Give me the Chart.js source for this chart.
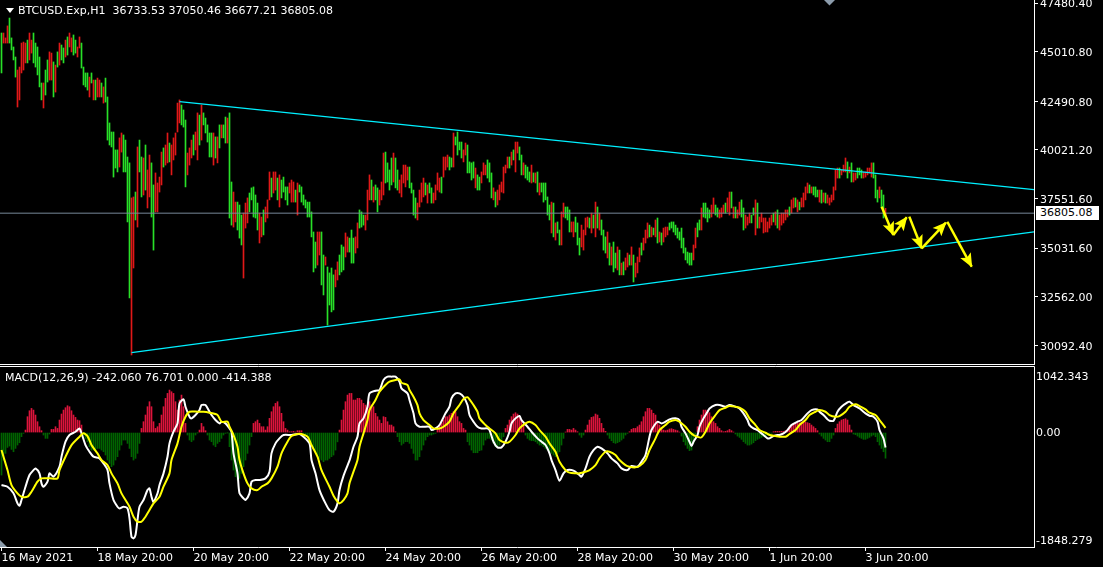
<!DOCTYPE html>
<html>
<head>
<meta charset="utf-8">
<script src="https://cdn.jsdelivr.net/npm/chart.js@4.4.1/dist/chart.umd.min.js"></script>
<style>
  body { margin:0; background:#000; width:1103px; height:567px; overflow:hidden; position:relative; font-family:"DejaVu Sans", sans-serif; }
  canvas { position:absolute; left:0; }
  #price { top:0; }
  #macd { top:365px; }
  .lbl { position:absolute; color:#fff; font-size:11px; line-height:13px; white-space:pre; }
  #tri { position:absolute; left:6px; top:8px; width:0; height:0; border-left:4px solid transparent; border-right:4px solid transparent; border-top:5px solid #fff; }
  #bidbox { position:absolute; left:1036px; top:206px; width:59px; height:14px; background:#fff; color:#000; font-size:11px; line-height:14px; padding-left:4px; }
</style>
</head>
<body>
<canvas id="price" width="1103" height="365"></canvas>
<canvas id="macd" width="1103" height="202"></canvas>
<div id="tri"></div>
<div class="lbl" style="left:18px;top:4px">BTCUSD.Exp,H1  36733.53 37050.46 36677.21 36805.08</div>
<div class="lbl" style="left:5px;top:371px">MACD(12,26,9) -242.060 76.701 0.000 -414.388</div>
<div id="bidbox">36805.08</div>
<script>
// H1 bars, 16 May 20:00 .. 3 Jun, one per hour
const highs = [
45960,45960,45710,46320,46720,45710,45250,44740,44080,44230,
45450,45500,45450,45600,45960,45600,45960,45450,45250,44740,
43420,43420,44080,44590,45000,44940,44490,44330,45000,45450,
45350,45200,45600,45760,45960,45710,45860,45600,45250,45760,
45450,44230,43930,43930,43720,43930,43570,43570,43670,43570,
43420,43220,43670,42710,
41390,40930,40930,40020,40020,40630,40880,40780,40520,39660,
39360,37580,37630,37880,40170,40520,39660,39610,40270,39000,
39760,39360,38240,38850,38340,38640,39910,40120,40270,40880,
40370,40270,40630,40880,42400,42560,42300,42050,41540,39860,
40120,40520,40780,40930,41900,41790,42300,41900,41640,41290,
40880,40880,40880,40680,40680,41290,41290,41290,41690,41640,
41900,38390,37880,37370,37370,37220,36710,36810,37320,37580,
37830,38090,38140,37730,37320,36810,36610,36970,37120,37480,
38900,38590,38900,38900,38590,38750,38490,38640,38140,38140,
38340,38490,38390,37980,38340,38240,38140,37730,37480,37370,
37370,36870,35850,35340,35850,35850,35850,34680,34580,34070,
33770,34020,33670,33920,34330,34680,35190,35090,35800,35600,
35540,35950,35540,35600,36310,36970,36870,36710,36710,37980,
38750,38490,38140,38240,38090,37980,38390,39860,39910,39360,
39000,39610,39860,39610,39000,38490,38750,39250,39250,39150,
39150,38340,37980,37580,37320,37980,38340,38590,38340,38240,
38340,38090,37830,38240,38850,38590,38640,39660,39660,39760,
39660,39610,40880,40680,40930,40420,40420,40020,40370,40270,
39410,39360,39410,39100,38750,38640,38900,39360,39250,39510,
39360,38850,38090,37880,37980,38240,38390,39150,39250,39660,
39660,39910,40020,40420,40420,40170,39760,39360,39250,39150,
38900,39250,38850,38850,38900,38340,38340,38340,38340,37630,
37220,37370,37320,36310,36360,35950,36870,37320,37120,37120,
36970,36360,36360,36610,36310,35540,36200,35950,36560,36610,
36560,36810,36710,37370,37120,36810,36460,35950,35600,35850,
35290,35090,35340,34780,35090,34930,34270,34330,34530,34780,
34680,35090,34680,34270,34580,35040,35290,35540,35950,36310,
36200,36100,36050,36460,36560,35850,35800,36050,36100,36100,
36310,36360,36360,36200,36050,35850,36050,35540,35040,34830,
34780,34780,35190,36050,36310,36460,37070,37320,37320,37070,
36970,37220,37580,37220,37070,36970,37070,37220,37320,37580,
37880,37880,37120,37120,36970,37370,37480,37070,36710,36610,
36810,36710,37070,37480,37320,36610,36810,36560,36560,36360,
36560,36710,36810,36870,36970,36710,36810,36810,36970,36970,
37120,37480,37580,37580,37480,37370,37580,37830,38140,38340,
38240,38140,38140,38140,37980,37980,37980,37830,37830,37730,
37580,37730,38140,39000,39100,39100,39000,39250,39610,39410,
39150,39360,38850,38850,39100,39100,39000,38900,38900,39100,
39100,39360,39360,38750,37980,38140,37980,37730,37050
];
const lows = [
43930,45450,45450,45450,45450,45100,44590,43720,42200,42560,
43930,44080,44440,44440,44590,44940,44440,44230,43830,43220,
42560,42150,42810,43470,43570,43570,42710,42960,44230,44330,
44590,44440,44740,44840,45250,45000,44840,44940,44740,45200,
44180,43320,43220,43060,42710,43420,42560,42560,42710,42710,
42710,42400,42450,40520,
40270,40170,38640,39100,38900,39150,39910,38900,38900,36360,
32500,29600,34020,36460,36100,38900,37630,37730,37980,37070,
37630,36610,34930,36870,36870,37880,38240,39150,39250,39360,
39410,38750,39510,39760,40930,41390,41290,41180,38140,38750,
39250,39610,39760,40020,39510,40270,40520,41290,40880,40420,
39660,39660,39250,39610,39360,40120,40630,40630,40370,40370,
36560,36200,36100,36360,35950,35540,35190,33510,36050,36310,
36870,37480,36610,36560,35950,35290,35600,35700,36360,36560,
37480,37630,37830,37980,37480,37120,37580,37880,37480,37220,
37830,37370,37370,37370,36710,37880,37370,37220,37070,36610,
36610,35600,33820,34020,34170,34680,33160,32650,34170,31120,
32140,31790,31890,33060,33410,33670,33820,33920,34580,34830,
34830,34270,34270,34780,35040,36050,36100,36200,35950,36460,
37480,37480,37370,37480,36870,37220,37480,37730,38340,38390,
37980,38240,38390,38090,37980,37830,37630,38340,38140,38490,
38090,37830,36710,36560,36460,37120,37370,37630,37730,37320,
37830,37320,37320,37480,37980,37880,37830,38640,39000,39150,
39000,39150,39150,40270,39760,40020,39610,39410,39760,38850,
38850,38490,38590,38090,37980,37980,38340,38750,38750,38590,
38390,37580,37480,37120,37220,37480,37880,37830,38850,39100,
39100,39250,39510,38900,39860,39510,38750,38750,38590,38490,
38390,38340,38390,38340,37880,37730,37880,37370,37480,36710,
36460,35800,35600,35440,35800,35190,35190,36610,36560,36460,
35850,35850,35600,35850,35190,34680,35090,34930,35700,36100,
36050,35800,36050,35600,36050,35950,35700,34930,34780,34530,
34170,34170,33820,34020,33920,33670,33670,33670,33920,34070,
34170,34170,33310,33560,33770,34330,34680,34930,35290,35540,
35600,35600,35700,35600,35290,35340,35190,35340,35600,35700,
35950,36050,35850,35700,35540,35440,35040,34780,34430,34270,
34170,34170,34430,35040,35600,35950,35950,36610,36560,36360,
36560,36610,36810,36710,36610,36560,36610,36810,36810,36870,
36710,37070,36560,36560,36560,36710,36610,35950,36050,36200,
36310,36310,36710,35700,36050,36050,36360,35800,35850,35850,
36050,36200,36360,36200,36050,35950,36200,36310,36460,36610,
36710,36810,37070,37120,36870,36970,37120,37120,37480,37830,
37830,37830,37730,37630,37630,37370,37320,37370,37320,37320,
37220,37370,37480,37980,38590,38590,38750,38900,38900,38590,
38850,38390,38390,38490,38590,38750,38590,38590,38640,38750,
38850,38640,38590,37580,37370,37580,37070,36560,36677
];
// R = close above open, G = close below open
const dirs =
  "GRRRGGGGRR" + "RRRGRRGGGG" + "GRGGRRGRGR" + "GGRGRRGGRR" + "GGGGRGRGRR" + "GRGG" +
  "GGGGGRRGGG" + "GRRGRGGRGR" + "RGGRRRRGRR" + "GRRRRRGGGR" + "RRGRRGRGGG" + "GGRGRGRGGR" +
  "GGRRGGGRRR" + "GGGGGRRGRR" + "RGRRGRGGGG" + "RRRGRGGGGG" + "GGGGRRGGRG" + "GGGRRGGGRR" +
  "GGGRRGGGRR" + "RGRGGRRRGG" + "GGRGGRRRRR" + "GGGGRRRRGR" + "GGRRRRGRRR" + "GGRGGGGRRG" +
  "GGGRGGRRRG" + "GGRGRRRRRR" + "GRGRRGGRGG" + "GRGRGRGGGG" + "GRGRGGRRGG" + "GRRGGGRRRR" +
  "GRGRGRGGGR" + "GRGGRGRGRR" + "GRGRRRGRRR" + "GRGRGRGRRR" + "GGGGGGGGGG" + "GGRRGGRGGG" +
  "GRRGGRRRGR" + "RGRGRRGGRR" + "RGGRGRRRRR" + "RRGRGRRRRR" + "GRRGRGRRRR" + "GRGGGRGRGR" +
  "RRRRRGRRRG" + "RGRRGGGRRR" + "RRGGGRGGR";

const bid = 36805.08;
const priceTicks = [47480.40, 45010.80, 42490.80, 40021.20, 37551.60, 35031.60, 32562.00, 30092.40];

// trend lines: [bar, price]
const upperTrend = [[89, 42470], [516.25, 38000]];
const lowerTrend = [[65, 29720], [516.25, 35860]];

// yellow forecast arrows, tail -> head
const arrowSegs = [
  [[440.1, 37135], [445.9, 35700]],
  [[445.9, 35700], [452.6, 36600]],
  [[453.9, 36630], [460.1, 35020]],
  [[460.1, 35020], [472.2, 36320]],
  [[472.9, 36370], [485.1, 34090]]
];

// MACD histogram, one value per bar
const hist = [
-686,-444,-336,-240,-218,-272,-310,-256,-202,-164,-67,
-13,40,
256,352,390,363,283,175,94,30,
-40,-94,-94,-24,
51,51,94,67,202,299,363,401,433,417,352,283,245,202,191,121,
-40,-94,-148,-229,-283,-283,-283,-256,-256,-283,-310,-363,-444,-498,-552,-525,-444,-390,-283,-202,-121,-121,-175,-256,-390,-444,-417,-336,-175,
67,175,283,417,498,417,175,67,94,148,283,417,552,632,686,659,632,498,363,525,605,417,148,
-40,-121,-148,-121,-40,-3,
40,148,94,30,
-40,-121,-148,-202,-229,-175,-148,-94,-40,-13,-3,-229,
-444,-606,-713,-767,-740,-659,-552,-444,-336,-202,-67,
148,175,202,148,94,94,40,94,229,336,417,471,498,417,310,175,67,40,13,13,
19,8,30,30,30,
-24,-40,-78,-148,-202,-256,-310,-363,-417,-444,-471,-444,-444,-417,-390,-363,-283,
-150,
40,202,363,498,605,632,632,525,525,552,552,525,471,444,417,498,444,417,310,256,202,148,256,245,175,121,121,94,13,
-67,-148,-202,-175,-148,-148,-175,-256,-336,-444,-444,-390,-283,-202,-121,-67,-40,-40,-24,-13,
67,121,148,202,256,256,283,310,336,336,256,175,148,67,40,
-148,-202,-283,-326,-326,-326,-293,-283,-202,-121,-94,-94,-121,-175,-229,-240,-202,-148,-67,
67,121,202,256,299,320,299,256,202,121,
-40,-94,-121,-132,-132,-148,-175,-202,-202,-229,-256,-283,-310,-336,-363,-390,-336,-310,-202,-94,
8,51,51,40,67,40,13,
-40,-78,-40,
40,121,202,245,256,299,283,229,148,67,19,
-40,-94,-132,-164,-175,-164,-148,-121,-94,-40,-13,
13,51,67,67,94,121,175,256,336,390,390,363,310,283,175,121,
67,40,30,40,57,62,51,40,30,8,
-57,-148,-202,-256,-293,-283,-175,-67,
94,202,283,363,363,352,320,256,175,148,94,67,30,
13,19,30,51,30,8,
-24,-57,-78,-110,-148,-175,-202,-202,-186,-164,-132,-110,-94,-78,-67,-57,-40,-24,-13,
13,19,19,19,19,19,30,51,94,121,137,148,159,159,170,175,170,159,148,121,94,67,30,
-24,-57,-94,-121,-148,-148,-94,-40,
67,137,175,202,213,223,202,121,40,
-24,-35,-57,-78,-94,-110,-110,-94,-78,-57,-40,-67,-148,-202,-256,-310,-414
];

// MACD main (white) and signal (yellow): [bar, value]
const macdMain = [
[0,-848],[3,-875],[6,-982],[8,-1144],[9,-1182],[10,-1090],[12,-875],[14,-686],[16,-606],[17,-579],[19,-659],[20,-821],
[21,-875],[23,-794],[24,-659],[26,-713],[29,-552],[30,-390],[32,-148],[34,-40],[37,13],[39,67],[40,-13],[42,-202],
[44,-310],[46,-390],[49,-417],[51,-498],[53,-606],[54,-821],[56,-1090],[58,-1198],[59,-1225],[61,-1198],[63,-1225],
[64,-1386],[65,-1682],[66,-1709],[67,-1655],[68,-1413],[69,-1198],[71,-1090],[73,-929],[74,-902],[75,-1036],[76,-1117],
[78,-982],[79,-848],[81,-659],[83,-390],[84,-175],[86,13],[88,148],[89,471],[91,536],[92,417],[94,256],[95,229],
[97,283],[99,363],[100,444],[102,444],[104,336],[105,283],[107,202],[109,148],[110,175],[112,148],[114,67],[115,13],
[116,-336],[118,-659],[119,-982],[121,-1063],[122,-1090],[124,-982],[125,-794],[127,-767],[129,-767],[132,-740],
[134,-632],[135,-336],[137,-175],[139,-94],[141,-40],[145,-40],[149,-24],[151,-67],[154,-175],[155,-444],[157,-659],
[159,-929],[162,-1144],[164,-1252],[166,-1278],[168,-1144],[169,-929],[171,-700],[174,-450],[176,-229],[178,-67],
[179,148],[181,229],[183,417],[184,632],[187,676],[189,686],[191,848],[193,902],[195,902],[197,902],[199,821],[200,713],
[203,632],[204,525],[206,310],[207,148],[209,94],[211,94],[214,94],[215,40],[217,67],[219,121],[222,310],[224,417],
[225,551],[227,632],[229,632],[231,579],[233,444],[234,283],[236,175],[238,94],[240,67],[243,67],[244,40],[246,-148],
[248,-240],[250,-240],[252,-148],[254,13],[255,148],[257,229],[259,266],[260,202],[263,94],[265,13],[268,-94],[270,-148],
[272,-202],[274,-336],[275,-444],[277,-606],[279,-778],[281,-659],[283,-606],[286,-616],[289,-686],[290,-713],[292,-579],
[294,-390],[296,-283],[298,-229],[300,-256],[303,-336],[305,-417],[308,-498],[310,-579],[313,-606],[315,-541],[318,-552],
[320,-471],[322,-363],[324,-67],[325,40],[328,175],[330,148],[332,175],[334,213],[337,229],[339,202],[340,94],[342,-13],
[344,-148],[345,-218],[346,-148],[348,-40],[349,94],[351,229],[353,336],[354,390],[357,444],[359,444],[362,417],[364,444],
[367,417],[369,390],[371,310],[373,202],[374,121],[376,67],[378,40],[379,13],[381,-40],[383,-94],[384,-94],[386,-57],
[388,-40],[389,-40],[391,-13],[393,40],[395,121],[398,175],[400,202],[403,310],[405,363],[408,374],[409,336],[411,283],
[413,213],[414,191],[416,191],[418,336],[420,417],[423,487],[424,498],[426,444],[429,390],[430,363],[432,310],[434,272],
[436,256],[438,175],[439,40],[441,-94],[442,-242]
];
const macdSignal = [
[0,-283],[1,-390],[3,-606],[5,-848],[8,-982],[10,-1036],[13,-1036],[15,-955],[18,-794],[20,-740],[24,-740],[28,-740],
[29,-606],[32,-390],[35,-202],[39,-67],[41,-13],[43,-57],[45,-202],[48,-336],[50,-444],[53,-525],[55,-659],[58,-821],
[60,-982],[64,-1198],[66,-1359],[68,-1440],[70,-1440],[72,-1359],[74,-1252],[76,-1144],[79,-1036],[81,-875],[84,-659],
[85,-444],[88,-175],[90,94],[92,256],[94,336],[98,336],[101,336],[104,320],[108,283],[110,175],[113,175],[114,94],
[116,-40],[118,-229],[119,-444],[121,-659],[123,-821],[125,-902],[128,-929],[130,-875],[133,-821],[135,-740],[138,-552],
[140,-336],[143,-148],[145,-57],[148,-24],[150,-24],[153,-67],[155,-202],[158,-390],[160,-606],[164,-875],[166,-1020],
[168,-1117],[169,-1144],[171,-1090],[173,-982],[174,-821],[176,-632],[178,-444],[179,-229],[181,-13],[183,202],[184,363],
[187,525],[189,659],[192,767],[194,821],[197,848],[199,859],[200,805],[203,767],[204,686],[206,579],[208,444],[209,310],
[211,202],[214,121],[216,67],[219,67],[221,94],[224,175],[226,310],[229,444],[231,541],[233,568],[234,536],[236,444],
[238,336],[239,229],[242,121],[244,67],[247,-13],[249,-121],[252,-164],[254,-148],[257,-40],[259,67],[262,148],[264,175],
[267,121],[269,40],[272,-67],[274,-175],[277,-310],[279,-471],[282,-606],[284,-648],[287,-659],[289,-659],[292,-632],
[294,-606],[297,-525],[299,-417],[302,-310],[304,-310],[307,-363],[309,-444],[312,-525],[314,-552],[317,-562],[319,-541],
[322,-444],[324,-283],[327,-94],[329,40],[332,121],[334,175],[337,202],[339,175],[342,94],[344,13],[346,-40],[349,-78],
[350,-78],[352,13],[354,148],[357,283],[359,363],[362,401],[364,428],[367,417],[369,401],[372,336],[374,229],[377,121],
[379,40],[382,-3],[384,-40],[387,-57],[389,-67],[392,-67],[394,-24],[397,40],[399,121],[402,202],[404,283],[407,336],
[409,363],[412,336],[414,283],[417,256],[419,266],[422,336],[424,417],[427,455],[429,428],[432,374],[434,320],[437,283],
[439,202],[442,77]
];
const macdMin = -1848.279, macdMax = 1042.343;
const macdTickLabels = ["1042.343", "0.00", "-1848.279"];

const timeTickBars = [0, 48, 96, 144, 192, 240, 288, 336, 384, 432];
const timeLabels = ["16 May 2021", "18 May 20:00", "20 May 20:00", "22 May 20:00", "24 May 20:00",
  "26 May 20:00", "28 May 20:00", "30 May 20:00", "1 Jun 20:00", "3 Jun 20:00"];

const xMin = -0.75, xMax = 516.25;
const BAR_UP = '#e01818', BAR_DN = '#28e028';
const AXIS_FONT = { family: 'DejaVu Sans', size: 11 };

Chart.defaults.font.family = 'DejaVu Sans';
Chart.defaults.font.size = 11;
Chart.defaults.color = '#fff';

const pts = arr => arr.map(p => ({ x: p[0], y: p[1] }));
const noPad = s => { s.paddingTop = 0; s.paddingBottom = 0; s.paddingLeft = 0; s.paddingRight = 0; };

const frame = {
  id: 'frame',
  afterDraw(chart, args, o) {
    const { ctx, chartArea: a } = chart;
    ctx.save();
    ctx.strokeStyle = '#fff';
    ctx.lineWidth = 1;
    ctx.beginPath();
    if (o.bottom) {
      ctx.moveTo(0, a.bottom + 0.5);
      ctx.lineTo(a.right + 1, a.bottom + 0.5);
    }
    if (o.top) {
      ctx.moveTo(0, a.top - 1.5);
      ctx.lineTo(a.right + 0.5, a.top - 1.5);
      ctx.lineTo(a.right + 0.5, a.top);
    }
    ctx.stroke();
    ctx.fillStyle = '#8c9cac';
    ctx.beginPath();
    if (o.shiftMark) {
      ctx.moveTo(824, 0); ctx.lineTo(835, 0); ctx.lineTo(829.5, 5.5);
    }
    if (o.cornerMark) {
      ctx.moveTo(0, a.bottom - 7); ctx.lineTo(0, a.bottom); ctx.lineTo(7, a.bottom);
    }
    ctx.fill();
    ctx.restore();
  }
};

const arrowHeads = {
  id: 'arrowHeads',
  afterDatasetsDraw(chart) {
    const ctx = chart.ctx;
    chart.data.datasets.forEach((ds, i) => {
      if (!ds.arrow) return;
      const el = chart.getDatasetMeta(i).data;
      const a = el[0], b = el[el.length - 1];
      const ang = Math.atan2(b.y - a.y, b.x - a.x);
      ctx.save();
      ctx.translate(b.x, b.y);
      ctx.rotate(ang);
      ctx.fillStyle = ds.borderColor;
      ctx.beginPath();
      ctx.moveTo(1, 0); ctx.lineTo(-13, -6); ctx.lineTo(-10, 0); ctx.lineTo(-13, 6);
      ctx.closePath();
      ctx.fill();
      ctx.restore();
    });
  }
};

const priceSets = [
  {
    type: 'bar',
    data: highs.map((h, i) => ({ x: i, y: [lows[i], h] })),
    backgroundColor: highs.map((h, i) => dirs[i] === 'R' ? BAR_UP : BAR_DN),
    barThickness: 1,
    order: 10
  },
  { type: 'line', data: pts([[xMin, bid], [xMax, bid]]), borderColor: '#778899', borderWidth: 1, pointRadius: 0, order: 9 },
  { type: 'line', data: pts(upperTrend), borderColor: '#00f0ff', borderWidth: 1.2, pointRadius: 0, order: 8 },
  { type: 'line', data: pts(lowerTrend), borderColor: '#00f0ff', borderWidth: 1.2, pointRadius: 0, order: 8 }
];
arrowSegs.forEach(s => priceSets.push({
  type: 'line', data: pts(s), borderColor: '#ffff00', borderWidth: 2.5, pointRadius: 0, arrow: true, order: 1
}));

new Chart(document.getElementById('price'), {
  data: { datasets: priceSets },
  options: {
    responsive: false,
    animation: false,
    layout: { padding: { left: 0, right: 0, top: 0, bottom: 1 } },
    plugins: { legend: { display: false }, tooltip: { enabled: false }, frame: { bottom: true, shiftMark: true } },
    scales: {
      x: { type: 'linear', min: xMin, max: xMax, offset: false, display: false },
      y: {
        position: 'right',
        min: 29142, max: 47637,
        afterFit: s => { s.width = 69; noPad(s); },
        afterBuildTicks: s => { s.ticks = priceTicks.map(v => ({ value: v })).reverse(); },
        ticks: { color: '#fff', font: AXIS_FONT, padding: 2, labelOffset: 1.5, autoSkip: false, callback: v => v.toFixed(2) },
        grid: { drawOnChartArea: false, drawTicks: true, tickLength: 4, color: '#fff' },
        border: { display: true, color: '#fff' }
      }
    }
  },
  plugins: [frame, arrowHeads]
});

new Chart(document.getElementById('macd'), {
  data: {
    datasets: [
      {
        type: 'bar',
        data: hist.map((v, i) => ({ x: i, y: v })),
        backgroundColor: hist.map(v => v >= 0 ? '#dc143c' : '#006400'),
        barThickness: 1,
        order: 3
      },
      { type: 'line', data: pts(macdMain), borderColor: '#ffffff', borderWidth: 2, pointRadius: 0, tension: 0.25, order: 2 },
      { type: 'line', data: pts(macdSignal), borderColor: '#ffff00', borderWidth: 2, pointRadius: 0, tension: 0.25, order: 1 }
    ]
  },
  options: {
    responsive: false,
    animation: false,
    layout: { padding: { left: 0, right: 0, top: 3, bottom: 0 } },
    plugins: { legend: { display: false }, tooltip: { enabled: false }, frame: { top: true, cornerMark: true } },
    scales: {
      x: {
        type: 'linear', min: xMin, max: xMax, position: 'bottom', offset: false,
        afterFit: s => { s.height = 20; noPad(s); },
        afterBuildTicks: s => { s.ticks = timeTickBars.map(v => ({ value: v })); },
        ticks: { align: 'start', color: '#fff', font: AXIS_FONT, padding: 1, maxRotation: 0, autoSkip: false,
                 callback: (v, i) => timeLabels[i] },
        grid: { offset: false, drawOnChartArea: false, drawTicks: true, tickLength: 4, color: '#fff' },
        border: { display: true, color: '#fff' }
      },
      y: {
        position: 'right',
        min: macdMin, max: macdMax,
        afterFit: s => { s.width = 69; noPad(s); },
        afterBuildTicks: s => {
          const span = macdMax - macdMin;
          s.ticks = [{ value: macdMin + span * 0.039 }, { value: 0 }, { value: macdMax - span * 0.043 }];
        },
        ticks: { color: '#fff', font: AXIS_FONT, padding: 2, labelOffset: 1, autoSkip: false,
                 callback: (v, i) => macdTickLabels[2 - i] },
        grid: { drawOnChartArea: false, drawTicks: false, color: '#fff' },
        border: { display: true, color: '#fff' }
      }
    }
  },
  plugins: [frame]
});
</script>
</body>
</html>
